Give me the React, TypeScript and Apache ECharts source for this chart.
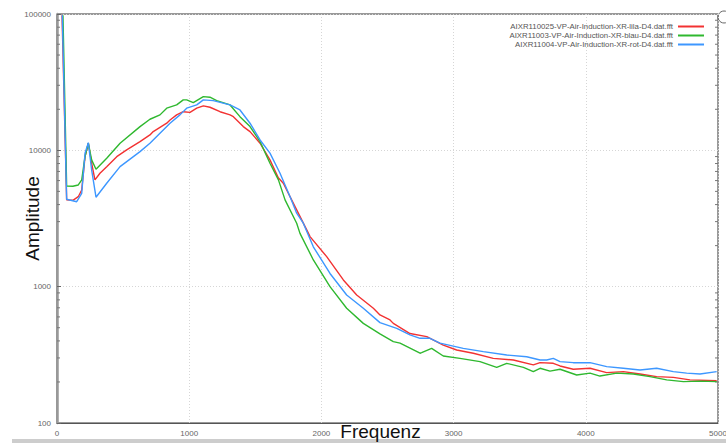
import React, { useEffect, useRef } from "react";
import * as echarts from "echarts";

const seriesNames = [
  "AIXR110025-VP-Air-Induction-XR-lila-D4.dat.fft",
  "AIXR11003-VP-Air-Induction-XR-blau-D4.dat.fft",
  "AIXR11004-VP-Air-Induction-XR-rot-D4.dat.fft",
];

const redData: [number, number][] = [
  [38, 98000], [73, 4330], [120, 4300], [161, 4570], [187, 5120], [212, 8990], [237, 11270],
  [262, 8040], [287, 6070], [325, 6790], [376, 7590], [452, 8990], [527, 10070], [628, 11590],
  [703, 12970], [728, 13720], [830, 15810], [855, 16710], [905, 18200], [955, 19200], [1006, 19000],
  [1057, 20400], [1107, 21200], [1157, 20700], [1233, 19200], [1309, 18200], [1334, 17660],
  [1384, 15800], [1409, 14930], [1460, 13720], [1536, 11270], [1611, 8510], [1674, 6300],
  [1712, 5740], [1813, 3660], [1889, 2610], [1914, 2330], [2040, 1660], [2166, 1120], [2267, 869],
  [2393, 695], [2443, 620], [2519, 570], [2544, 538], [2670, 453], [2797, 430], [2922, 373],
  [3023, 343], [3149, 325], [3300, 298], [3452, 290], [3603, 267], [3654, 277], [3754, 274],
  [3805, 262], [3905, 248], [4032, 252], [4158, 234], [4284, 238], [4410, 229], [4536, 219],
  [4662, 216], [4788, 207], [4990, 204],
];

const greenData: [number, number][] = [
  [45, 98000], [73, 5480], [120, 5450], [161, 5570], [187, 6070], [212, 8990], [237, 11270],
  [262, 8510], [295, 7260], [376, 8750], [477, 11270], [628, 14930], [703, 16900], [779, 18200],
  [830, 20370], [905, 21530], [955, 23440], [981, 23440], [1031, 22400], [1107, 24770],
  [1157, 24530], [1208, 23170], [1309, 21530], [1384, 17660], [1460, 14930], [1536, 11590],
  [1611, 8040], [1675, 6070], [1725, 4330], [1813, 2920], [1838, 2460], [1939, 1570], [2065, 1000],
  [2191, 695], [2317, 538], [2443, 450], [2544, 395], [2595, 385], [2746, 325], [2758, 328],
  [2834, 353], [2922, 310], [3048, 298], [3200, 282], [3326, 256], [3402, 274], [3528, 256],
  [3603, 238], [3654, 252], [3729, 240], [3805, 248], [3931, 225], [4032, 232], [4107, 221],
  [4234, 232], [4360, 229], [4486, 219], [4612, 207], [4738, 201], [4864, 203], [4990, 201],
];

const blueData: [number, number][] = [
  [40, 98000], [73, 4380], [149, 4200], [187, 4840], [212, 9530], [237, 11380], [262, 7180],
  [295, 4530], [376, 5740], [477, 7590], [628, 9780], [703, 11270], [779, 13340], [855, 15810],
  [930, 18200], [981, 20370], [1057, 21530], [1107, 23440], [1182, 23170], [1309, 21530],
  [1384, 19770], [1460, 15810], [1536, 11910], [1611, 9530], [1687, 6790], [1763, 4570],
  [1813, 3460], [1863, 2920], [1939, 1960], [2065, 1250], [2191, 869], [2317, 695], [2443, 545],
  [2570, 495], [2670, 443], [2746, 418], [2821, 418], [2897, 385], [3073, 353], [3225, 334],
  [3402, 315], [3553, 306], [3654, 290], [3704, 290], [3754, 298], [3805, 282], [3905, 277],
  [4032, 277], [4158, 259], [4284, 252], [4410, 245], [4536, 252], [4662, 238], [4763, 232],
  [4864, 229], [4990, 238],
];

const xTicks = [0, 1000, 2000, 3000, 4000, 5000];
const yTicks = [100, 1000, 10000, 100000];
const minorTickValues = [
  200, 300, 400, 500, 600, 700, 800, 900,
  2000, 3000, 4000, 5000, 6000, 7000, 8000, 9000,
  20000, 30000, 40000, 50000, 60000, 70000, 80000, 90000,
];

const colors = ["#f23232", "#2fb82f", "#3d97ff"];

export default function App() {
  const ref = useRef<HTMLDivElement>(null);
  useEffect(() => {
    if (!ref.current) return;
    const chart = echarts.init(ref.current, undefined, { renderer: "svg" });
    const lineSeries = [redData, greenData, blueData].map((d, i) => ({
      name: seriesNames[i],
      type: "line",
      data: d,
      showSymbol: false,
      symbol: "none",
      lineStyle: { width: 1.4, color: colors[i] },
      itemStyle: { color: colors[i] },
      z: 3,
    }));
    chart.setOption({
      animation: false,
      backgroundColor: "#ffffff",
      textStyle: { fontFamily: "Liberation Sans, Arial, sans-serif" },
      grid: {
        left: 57,
        right: 8,
        top: 14,
        bottom: 20,
        show: true,
        borderColor: "#333",
        borderWidth: 1,
        containLabel: false,
        outerBoundsMode: "none",
      },
      legend: {
        orient: "vertical",
        right: 17,
        top: 17,
        align: "right",
        itemWidth: 26,
        itemHeight: 2,
        itemGap: 0,
        icon: "rect",
        textStyle: { fontSize: 7.8, color: "#555", lineHeight: 9 },
        data: seriesNames,
      },
      xAxis: {
        type: "value",
        min: xTicks[0],
        max: xTicks[xTicks.length - 1],
        interval: 1000,
        name: "Frequenz",
        nameLocation: "middle",
        nameGap: -1,
        nameMoveOverlap: false,
        nameTextStyle: { fontSize: 19, color: "#111", padding: [0, 14, 0, 0] },
        axisLine: { show: true, lineStyle: { color: "#555", width: 1 } },
        axisTick: { show: false },
        axisLabel: { fontSize: 8, color: "#666", margin: 6, formatter: (v: number) => String(v) },
        splitLine: { show: true, lineStyle: { color: "#d6d6d6", type: [1, 2], width: 1 } },
      },
      yAxis: {
        type: "log",
        logBase: 10,
        min: yTicks[0],
        max: yTicks[yTicks.length - 1],
        name: "Amplitude",
        nameLocation: "middle",
        nameGap: 15,
        nameMoveOverlap: false,
        nameTextStyle: { fontSize: 19, color: "#111" },
        axisLine: { show: true, lineStyle: { color: "#999", width: 2.5 } },
        axisTick: { show: true, inside: true, length: 4, lineStyle: { color: "#666" } },
        axisLabel: { fontSize: 8, color: "#666", margin: 6, formatter: (v: number) => String(Math.round(v)) },
        splitLine: { show: true, lineStyle: { color: "#d6d6d6", type: [1, 2], width: 1 } },
      },
      series: [
        ...lineSeries,
        {
          type: "custom",
          silent: true,
          z: 2,
          data: minorTickValues.map((v) => [0, v]),
          renderItem: (_params: any, api: any) => {
            const v = api.value(1);
            const l = api.coord([xTicks[0], v]);
            const r = api.coord([xTicks[xTicks.length - 1], v]);
            return {
              type: "group",
              children: [
                { type: "line", shape: { x1: l[0], y1: l[1], x2: l[0] + 3, y2: l[1] }, style: { stroke: "#777", lineWidth: 1 } },
                { type: "line", shape: { x1: r[0], y1: r[1], x2: r[0] - 3, y2: r[1] }, style: { stroke: "#777", lineWidth: 1 } },
              ],
            };
          },
        },
      ],
      graphic: [
        { type: "rect", shape: { x: 12, y: 439, width: 714, height: 4 }, style: { fill: "#cdcdcd" } },
        { type: "circle", shape: { cx: 724, cy: 17, r: 6 }, style: { fill: "none", stroke: "#666", lineWidth: 1 } },
      ],
    });
    return () => chart.dispose();
  }, []);
  return <div ref={ref} style={{ position: "fixed", left: 0, top: 0, width: 726, height: 443 }} />;
}
